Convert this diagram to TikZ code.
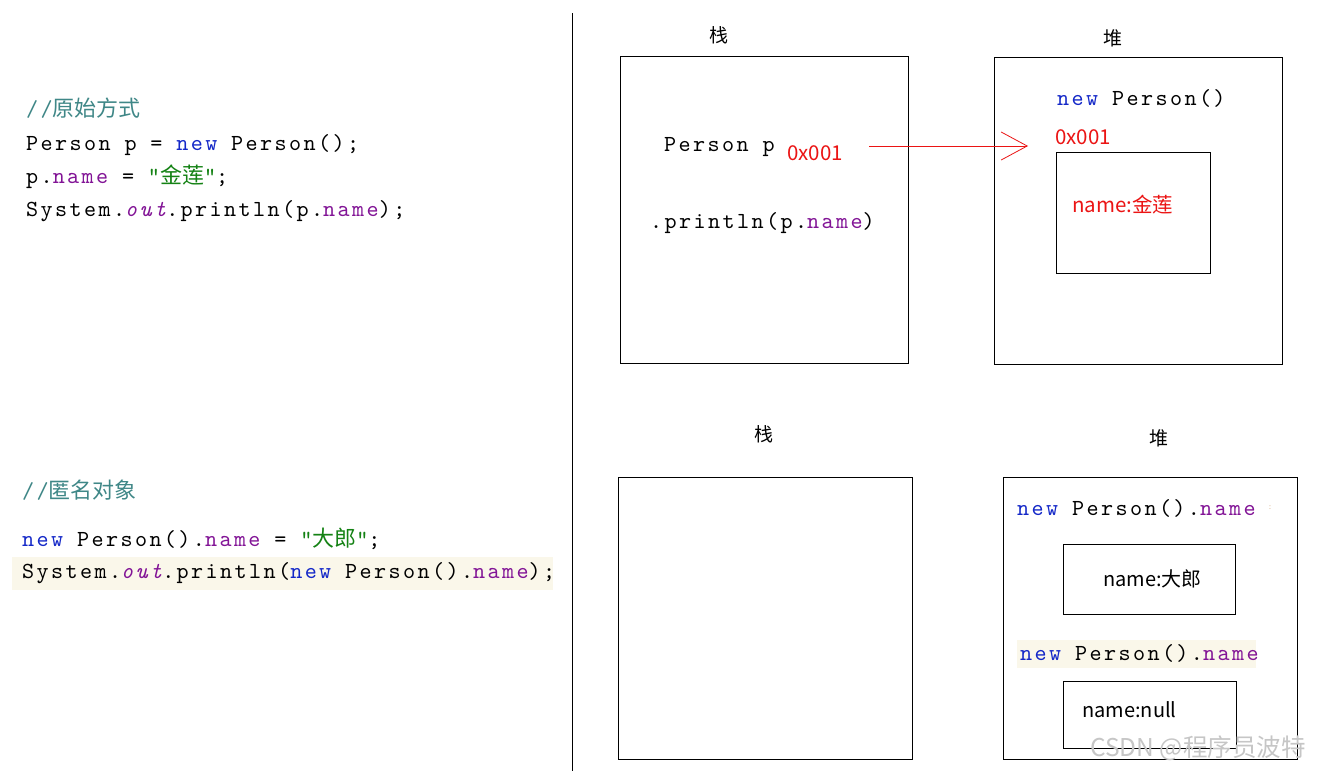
\documentclass[tikz,border=0pt]{standalone}
\usepackage{fontspec}
\setmainfont{Noto Sans CJK SC}
\newfontfamily\codefont[Extension=.otf,LetterSpace=10.5,ItalicFont=lmmono10-italic]{lmmono10-regular}
\newfontfamily\cjkfont{Noto Sans CJK SC}
\usetikzlibrary{arrows.meta}
\definecolor{cmt}{RGB}{63,135,135}
\definecolor{kw}{RGB}{20,40,200}
\definecolor{fld}{RGB}{130,20,150}
\definecolor{str}{RGB}{20,130,20}
\definecolor{lbl}{RGB}{235,20,20}
\definecolor{hl}{RGB}{250,247,234}
\newcommand\zh[1]{{\fontsize{22}{22}\cjkfont #1}}
\newcommand\kwd[1]{\textcolor{kw}{#1}}
\newcommand\fd[1]{\textcolor{fld}{#1}}
\newcommand\st[1]{\textcolor{str}{#1}}
\newcommand\cs{\hspace*{13.8pt}}
\begin{document}
\begin{tikzpicture}[x=1pt,y=-1pt,
  code/.style={anchor=west,inner sep=0pt,font=\codefont\fontsize{23}{23}\selectfont},
  cmtline/.style={anchor=west,inner sep=0pt,text=cmt,font=\codefont\fontsize{23}{23}\selectfont},
  redlbl/.style={inner sep=0pt,text=lbl,font=\cjkfont\fontsize{20.5}{20.5}\selectfont},
  blklbl/.style={inner sep=0pt,text=black,font=\cjkfont\fontsize{20}{20}\selectfont},
  title/.style={inner sep=0pt,font=\cjkfont\fontsize{19}{19}\selectfont},
  box/.style={draw=black,line width=1pt},
  hlbg/.style={fill=hl,draw=none}]
\useasboundingbox (0,0) rectangle (1317,771);
\fill[white] (0,0) rectangle (1317,771);

% divider
\draw[line width=1pt] (572,13) -- (572,771);

% ---- left code, top
\node[cmtline] (c1) at (26,108) {//\zh{原始方式}};
\node[code] (c2) at (26,145) {Person\cs p\cs=\cs\kwd{new}\cs Person();};
\node[code] (c3) at (26,177) {p.\fd{name}\cs=\cs\st{"\zh{金莲}"};};
\node[code] (c4) at (26,211) {System.\fd{\itshape out}.println(p.\fd{name});};

% ---- left code, bottom
\fill[hlbg] (12,557) rectangle (553,590);
\node[cmtline] (d1) at (22,490) {//\zh{匿名对象}};
\node[code] (d2) at (22,539) {\kwd{new}\cs Person().\fd{name}\cs=\cs\st{"\zh{大郎}"};};
\node[code] (d3) at (22,573) {System.\fd{\itshape out}.println(\kwd{new}\cs Person().\fd{name});};

% ---- top stack / heap
\node[title] (t1) at (719,35) {栈};
\node[title] (t2) at (1113,38) {堆};
\draw[box] (620,56) rectangle (908,363);
\draw[box] (994,57) rectangle (1282,364);
\node[code] (s1) at (664,147) {Person\cs p};
\node[redlbl,anchor=west] (s0x) at (787,153) {0x001};
\node[code] (s2) at (650,223) {.println(p.\fd{name})};
\node[code] (h1) at (1057,98) {\kwd{new}\cs Person()};
\node[redlbl,anchor=west] (h0x) at (1055,137) {0x001};
\draw[box] (1056,152) rectangle (1210,273);
\node[redlbl,anchor=west] (hn) at (1072,205) {name:金莲};
\coordinate (arrS) at (869,146);
\coordinate (arrE) at (1028,146);
\draw[lbl,line width=0.8pt,-{Straight Barb[length=26pt,width=28pt,line width=0.8pt]}] (arrS) -- (arrE);

% ---- bottom stack / heap
\node[title] (t3) at (764,434) {栈};
\node[title] (t4) at (1159,438) {堆};
\draw[box] (618,477) rectangle (912,759);
\draw[box] (1003,477) rectangle (1297,759);
\node[code] (b1) at (1017,508) {\kwd{new}\cs Person().\fd{name}};
\node[inner sep=0pt,text=brown,font=\fontsize{7}{7}\selectfont] (b1s) at (1270,508) {:};
\draw[box] (1063,544) rectangle (1235,614);
\node[blklbl,anchor=west] (bn1) at (1103,579) {name:大郎};
\fill[hlbg] (1017,640) rectangle (1256,668);
\node[code] (b2) at (1020,653) {\kwd{new}\cs Person().\fd{name}};
\draw[box] (1063,681) rectangle (1236,748);
\node[blklbl,anchor=west] (bn2) at (1082,710) {name:null};

% watermark
\node[anchor=west,inner sep=0pt,text=gray!45,font=\cjkfont\fontsize{24.5}{24.5}\selectfont] (wm) at (1090,748) {CSDN @程序员波特};
\end{tikzpicture}
\end{document}
